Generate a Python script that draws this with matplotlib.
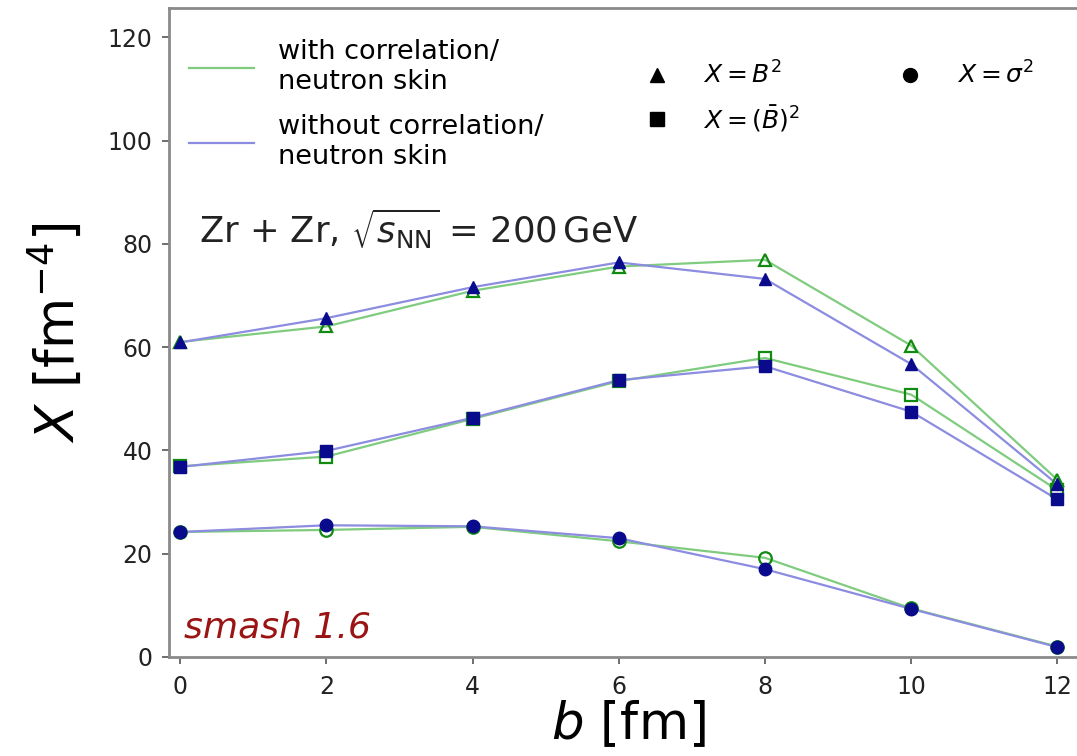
import matplotlib
matplotlib.use('Agg')
import matplotlib.pyplot as plt
from matplotlib.lines import Line2D

plt.rcParams['mathtext.fontset'] = 'dejavusans'

b = [0, 2, 4, 6, 8, 10, 12]

# X = B^2
tri_with = [61.0, 64.0, 70.9, 75.6, 76.9, 60.3, 34.3]
tri_without = [60.9, 65.6, 71.6, 76.4, 73.2, 56.7, 33.4]
# X = (B bar)^2
sq_with = [36.9, 38.8, 46.1, 53.4, 57.9, 50.8, 32.3]
sq_without = [36.8, 39.9, 46.3, 53.6, 56.3, 47.5, 30.5]
# X = sigma^2
circ_with = [24.2, 24.6, 25.2, 22.4, 19.2, 9.4, 2.0]
circ_without = [24.2, 25.5, 25.3, 23.0, 17.0, 9.3, 1.9]

green_line = '#7fcc7f'
blue_line = '#8c8ce0'
green_mark = '#108a10'
blue_mark = '#0a0a8c'

fig = plt.figure(figsize=(10.77, 7.56), dpi=100)
ax = fig.add_axes([0.157, 0.131, 0.852, 0.858])

series = [
    ('^', tri_with, tri_without),
    ('s', sq_with, sq_without),
    ('o', circ_with, circ_without),
]
for marker, with_vals, without_vals in series:
    ax.plot(b, with_vals, color=green_line, lw=1.6, zorder=2)
    ax.plot(b, without_vals, color=blue_line, lw=1.6, zorder=2)
    ax.plot(b, with_vals, ls='none', marker=marker, ms=9, mfc='none',
            mec=green_mark, mew=1.6, zorder=3)
    ax.plot(b, without_vals, ls='none', marker=marker, ms=9, mfc=blue_mark,
            mec=blue_mark, zorder=4)

ax.set_xlim(-0.15, 12.4)
ax.set_ylim(0, 125.6)
ax.set_xticks(b)
ax.set_yticks([0, 20, 40, 60, 80, 100, 120])
ax.tick_params(colors='#555555', labelcolor='#222222', labelsize=17,
               length=5, width=1.2)
ax.tick_params(axis='x', pad=8)
ax.tick_params(axis='y', pad=7)
for s in ax.spines.values():
    s.set_color('#8a8a8a')
    s.set_linewidth(2)
ax.spines['right'].set_visible(False)

ax.set_xlabel('$b$ [fm]', fontsize=37, labelpad=0)
ax.set_ylabel('$X$ [fm$^{-4}$]', fontsize=38, labelpad=16)

# line-style legend
line_handles = [
    Line2D([], [], color=green_line, lw=1.6),
    Line2D([], [], color=blue_line, lw=1.6),
]
leg1 = ax.legend(line_handles,
                 ['with correlation/\nneutron skin',
                  'without correlation/\nneutron skin'],
                 loc='upper left', bbox_to_anchor=(-0.005, 0.99), frameon=False,
                 fontsize=19.5, handlelength=2.4, handletextpad=0.9,
                 labelspacing=0.7)
ax.add_artist(leg1)

marker_handles = [
    Line2D([], [], ls='none', marker='^', color='black', ms=10),
    Line2D([], [], ls='none', marker='s', color='black', ms=10),
    Line2D([], [], ls='none', marker='o', color='black', ms=10),
]
ax.legend(marker_handles,
          ['$X = B^2$', r'$X = (\bar{B})^2$', r'$X = \sigma^2$'],
          loc='upper left', bbox_to_anchor=(0.48, 0.953), ncol=2,
          frameon=False, fontsize=18, columnspacing=3.4, handletextpad=0.85,
          labelspacing=0.6)

ax.text(0.033, 0.638, r'Zr + Zr, $\sqrt{s_{\rm NN}}$ = 200$\,$GeV',
        transform=ax.transAxes, fontsize=25.5, color='#222222')
ax.text(0.016, 0.03, 'smash 1.6', transform=ax.transAxes, fontsize=26,
        style='italic', color='#9b1414')

fig.savefig('out.png', dpi=100)
